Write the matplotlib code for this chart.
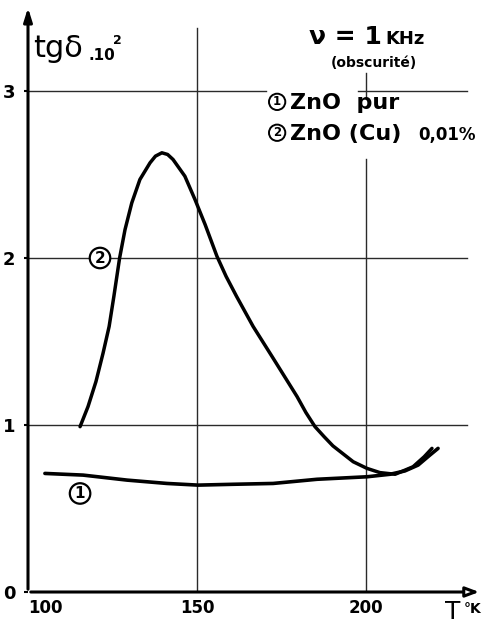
import numpy as np
import matplotlib.pyplot as plt

plt.rcParams['font.family'] = ['DejaVu Sans', 'Noto Sans CJK JP']

#%% Daten

# Kurve 1 : ZnO pur
T_pur = [105.0, 116.3, 129.3, 141.1, 150.3, 160.7, 172.5, 185.5, 200.3, 207.1,
         211.5, 215.4, 218.9, 221.3]
tg_pur = [0.71, 0.70, 0.67, 0.65, 0.64, 0.645, 0.65, 0.675, 0.69, 0.705,
          0.725, 0.76, 0.82, 0.86]

# Kurve 2 : ZnO (Cu) 0,01%
T_cu = [115.4, 117.75, 120.1, 122.2, 124.0, 125.4, 127.1, 128.7, 130.7, 133.1,
        134.6, 136.1, 137.7, 139.6, 141.3, 142.9, 146.4, 149.4, 152.4, 155.9,
        158.6, 161.7, 166.6, 172.2, 179.6, 182.2, 184.9, 187.6, 190.2, 196.2,
        200.3, 204.1, 208.6, 213.9, 217.2, 219.5]
tg_cu = [0.99, 1.11, 1.26, 1.43, 1.59, 1.77, 2.00, 2.17, 2.33, 2.47,
         2.52, 2.57, 2.61, 2.63, 2.62, 2.59, 2.49, 2.35, 2.20, 2.01,
         1.89, 1.77, 1.59, 1.41, 1.17, 1.075, 0.99, 0.93, 0.875, 0.78,
         0.74, 0.715, 0.705, 0.75, 0.81, 0.86]

x_ticks = [100, 150, 200]
y_ticks = [0, 1, 2, 3]

#%% Plot

fig = plt.figure(figsize=(4.86, 6.25), dpi=100)
ax = fig.add_axes([28/486, 33/625, 454/486, 587/625])
ax.set_xlim(100, 234.3)
ax.set_ylim(0, 3.515)

for s in ax.spines.values():
    s.set_visible(False)

# Gitter (von Hand unterbrochen wie im Original)
gc = '#2a2a2a'
ax.plot([100, 230], [1, 1], color=gc, lw=1.0, zorder=1)
ax.plot([100, 230], [2, 2], color=gc, lw=1.0, zorder=1)
ax.plot([100, 170.5], [3, 3], color=gc, lw=1.0, zorder=1)
ax.plot([197.5, 230], [3, 3], color=gc, lw=1.0, zorder=1)
ax.plot([150, 150], [0, 3.38], color=gc, lw=1.0, zorder=1)
ax.plot([200, 200], [0, 2.59], color=gc, lw=1.0, zorder=1)
ax.plot([200, 200], [2.96, 3.11], color=gc, lw=1.0, zorder=1)

# Achsen mit Pfeilen
ax.annotate('', xy=(234.3, 0), xytext=(100, 0),
            arrowprops=dict(arrowstyle='-|>,head_length=0.8,head_width=0.3', lw=2.2, color='k', fc='white'),
            annotation_clip=False, zorder=3)
ax.annotate('', xy=(100, 3.515), xytext=(100, 0),
            arrowprops=dict(arrowstyle='-|>,head_length=0.8,head_width=0.25', lw=2.2, color='k'),
            annotation_clip=False, zorder=3)

ax.plot(T_pur, tg_pur, color='black', lw=2.6, solid_capstyle='round', solid_joinstyle='round', zorder=4)
ax.plot(T_cu, tg_cu, color='black', lw=2.5, solid_capstyle='round', solid_joinstyle='round', zorder=4)

ax.set_xticks(x_ticks)
ax.set_xticklabels([str(t) for t in x_ticks], fontsize=12, fontweight='bold')
ax.set_yticks(y_ticks)
ax.set_yticklabels([str(t) for t in y_ticks], fontsize=13, fontweight='bold')
ax.tick_params(axis='x', length=0, pad=5)
ax.tick_params(axis='y', length=3, width=1.5, pad=6)
ax.get_xticklabels()[0].set_ha('left')

circ = dict(boxstyle='circle,pad=0.18', fc='white', ec='black', lw=1.6)
circ_s = dict(boxstyle='circle,pad=0.14', fc='white', ec='black', lw=1.4)

# Beschriftungen
ax.text(101.5, 3.255, 'tgδ', fontsize=22, ha='left', va='center')
ax.text(117.8, 3.215, '.10', fontsize=11, ha='left', va='center', fontweight='bold')
ax.text(125.0, 3.30, '2', fontsize=9, ha='left', va='center', fontweight='bold')

ax.text(193.8, 3.28, 'ν = 1', fontsize=18, ha='center', va='baseline', fontweight='bold')
ax.text(211.5, 3.28, 'KHz', fontsize=13, ha='center', va='baseline', fontweight='bold')
ax.text(202.4, 3.17, '(obscurité)', fontsize=10, ha='center', va='center', fontweight='bold')

ax.text(173.7, 2.935, '1', fontsize=8.5, ha='center', va='center', fontweight='bold', bbox=circ_s, zorder=5)
ax.text(177.5, 2.93, 'ZnO  pur', fontsize=16, ha='left', va='center', fontweight='bold', zorder=5)
ax.text(173.7, 2.75, '2', fontsize=8.5, ha='center', va='center', fontweight='bold', bbox=circ_s, zorder=5)
ax.text(177.5, 2.745, 'ZnO (Cu)', fontsize=16, ha='left', va='center', fontweight='bold', zorder=5)
ax.text(215.4, 2.735, '0,01%', fontsize=12, ha='left', va='center', fontweight='bold', zorder=5)

ax.text(121.3, 2.0, '2', fontsize=11, ha='center', va='center', fontweight='bold', bbox=circ, zorder=5)
ax.text(115.4, 0.59, '1', fontsize=11, ha='center', va='center', fontweight='bold', bbox=circ, zorder=5)

ax.text(223.4, -0.12, 'T', fontsize=18, ha='left', va='center', clip_on=False)
ax.text(229.0, -0.10, '°K', fontsize=10, ha='left', va='center', fontweight='bold', clip_on=False)

plt.savefig('out.png', dpi=100)
